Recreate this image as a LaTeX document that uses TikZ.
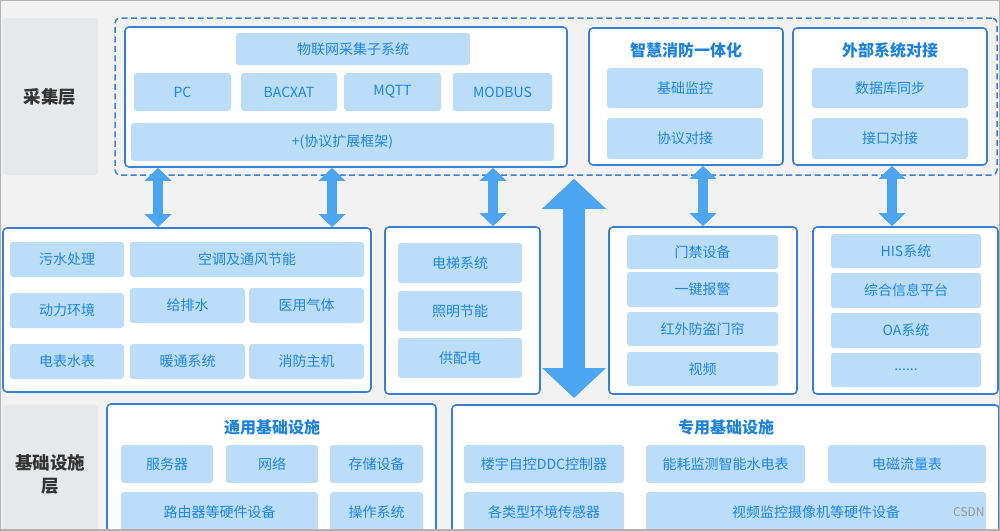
\documentclass[tikz,border=0pt]{standalone}
\usepackage{fontspec}
\setmainfont{Noto Sans CJK SC}
\usetikzlibrary{arrows.meta,calc}
\definecolor{bg}{HTML}{F2F2F2}
\definecolor{labbg}{HTML}{E7E8EA}
\definecolor{itemfill}{HTML}{BBDDF7}
\definecolor{txtblue}{HTML}{1F86E2}
\definecolor{bord}{HTML}{3A7FD1}
\definecolor{arr}{HTML}{4BA5F1}
\definecolor{titleblue}{HTML}{1E82DC}
\definecolor{labtxt}{HTML}{333333}
\newcommand\mybox[7]{%
  \pgfmathsetmacro\bxcx{(#3+#5)/2}%
  \pgfmathsetmacro\bxcy{(#4+#6)/2}%
  \pgfmathsetmacro\bxw{#5-#3}%
  \pgfmathsetmacro\bxh{#6-#4}%
  \node[#1, minimum width=\bxw pt, minimum height=\bxh pt] (#2) at (\bxcx,\bxcy) {#7};}
\tikzset{
  item/.style={fill=itemfill, rounded corners=3pt, text=txtblue, inner sep=0pt,
    font=\fontsize{14}{16}\selectfont},
  cont/.style={fill=white, draw=bord, line width=1.6pt, rounded corners=4pt, inner sep=0pt},
  dashbox/.style={draw=bord, line width=1.5pt, dash pattern=on 6pt off 3.5pt, rounded corners=5pt, inner sep=0pt},
  layer/.style={fill=labbg, rounded corners=3pt, inner sep=0pt},
  laytxt/.style={text=labtxt, align=center, inner sep=0pt,
    font=\fontsize{17.5}{23}\selectfont\bfseries},
  ttl/.style={text=titleblue, font=\fontsize{16}{18}\selectfont\bfseries, inner sep=0pt},
  dbl/.style={draw=arr, line width=10pt,
    arrows={Triangle[width=26pt,length=13pt]-Triangle[width=26pt,length=13pt]}},
  bigdbl/.style={draw=arr, line width=22pt,
    arrows={Triangle[width=62pt,length=30pt]-Triangle[width=62pt,length=30pt]}},
}
\begin{document}
\begin{tikzpicture}[x=1pt,y=-1pt]
\clip (0,0) rectangle (1000,530);
\fill[bg] (0,0) rectangle (1000,530);

% layer labels
\mybox{layer}{lay1}{3}{18}{98}{175}{}
\node[laytxt] (lay1t) at (50,97) {采集层};
\mybox{layer}{lay2}{3}{405}{98}{545}{}
\node[laytxt] (lay2t) at (50,474) {基础设施\\层};

% top: IoT
\mybox{dashbox}{dash}{115}{18}{997}{175}{}
\mybox{cont}{iot}{125}{27}{567}{167}{}
\mybox{item}{iotsub}{236}{33}{470}{65}{物联网采集子系统}
\mybox{item}{pc}{134}{73}{231}{111}{PC}
\mybox{item}{bac}{241}{73}{337}{111}{BACXAT}
\mybox{item}{mqtt}{344}{73}{441}{111}{MQTT}
\mybox{item}{modbus}{453}{73}{552}{111}{MODBUS}
\mybox{item}{ext}{131}{123}{554}{161}{+(协议扩展框架)}

% fire
\mybox{cont}{fire}{589}{28}{783}{165}{}
\node[ttl] (firet) at (686,50) {智慧消防一体化};
\mybox{item}{jc}{607}{68}{763}{108}{基础监控}
\mybox{item}{xy}{607}{118}{763}{159}{协议对接}

% external
\mybox{cont}{exts}{793}{28}{987}{165}{}
\node[ttl] (extt) at (890,50) {外部系统对接};
\mybox{item}{db}{812}{68}{968}{108}{数据库同步}
\mybox{item}{jk}{812}{118}{968}{159}{接口对接}

% middle row
\mybox{cont}{env}{3}{228}{371}{392}{}
\mybox{item}{ws}{10}{242}{124}{277}{污水处理}
\mybox{item}{kt}{130}{242}{364}{277}{空调及通风节能}
\mybox{item}{dl}{10}{293}{124}{328}{动力环境}
\mybox{item}{gps}{130}{288}{245}{323}{给排水}
\mybox{item}{yy}{249}{288}{364}{323}{医用气体}
\mybox{item}{db2}{10}{344}{124}{379}{电表水表}
\mybox{item}{nt}{130}{344}{245}{379}{暖通系统}
\mybox{item}{xf}{249}{344}{364}{379}{消防主机}

\mybox{cont}{elev}{385}{227}{540}{394}{}
\mybox{item}{dt}{398}{243}{522}{283}{电梯系统}
\mybox{item}{zm}{398}{291}{522}{331}{照明节能}
\mybox{item}{gpd}{398}{338}{522}{378}{供配电}

\mybox{cont}{door}{609}{227}{797}{394}{}
\mybox{item}{mj}{627}{235}{778}{269}{门禁设备}
\mybox{item}{yj}{627}{272}{778}{307}{一键报警}
\mybox{item}{hw}{627}{312}{778}{346}{红外防盗门帘}
\mybox{item}{sp}{627}{352}{778}{386}{视频}

\mybox{cont}{info}{813}{227}{998}{394}{}
\mybox{item}{his}{831}{234}{981}{268}{HIS系统}
\mybox{item}{zh}{831}{273}{981}{308}{综合信息平台}
\mybox{item}{oa}{831}{313}{981}{348}{OA系统}
\mybox{item}{dots}{831}{353}{981}{387}{\raisebox{-2pt}{......}}

% bottom row
\mybox{cont}{gen}{107}{404}{436}{545}{}
\node[ttl] (gent) at (272,427) {通用基础设施};
\mybox{item}{fwq}{121}{445}{213}{483}{服务器}
\mybox{item}{wl}{226}{445}{318}{483}{网络}
\mybox{item}{cc}{330}{445}{423}{483}{存储设备}
\mybox{item}{lyq}{121}{492}{318}{540}{\raisebox{9pt}{路由器等硬件设备}}
\mybox{item}{cz}{330}{492}{423}{540}{\raisebox{9pt}{操作系统}}

\mybox{cont}{spec}{452}{405}{999}{545}{}
\node[ttl] (spect) at (726,427) {专用基础设施};
\mybox{item}{ddc}{464}{445}{624}{483}{楼宇自控DDC控制器}
\mybox{item}{nh}{646}{445}{805}{483}{能耗监测智能水电表}
\mybox{item}{dc}{828}{445}{986}{483}{电磁流量表}
\mybox{item}{hj}{464}{492}{624}{540}{\raisebox{9pt}{各类型环境传感器}}
\mybox{item}{spjk}{646}{492}{986}{540}{\raisebox{9pt}{视频监控摄像机等硬件设备}}
\node[anchor=west, text=gray!80, font=\fontsize{12}{14}\selectfont, inner sep=0pt] (csdn) at (953,512) {CSDN};

% arrows
\coordinate (ax1) at (158,0);
\coordinate (ax2) at (332,0);
\coordinate (ax3) at (493,0);
\coordinate (ax4) at (703,0);
\coordinate (ax5) at (892,0);
\coordinate (bigbot) at (574,398);
\draw[dbl] (iot.south -| ax1) -- (env.north -| ax1);
\draw[dbl] (iot.south -| ax2) -- (env.north -| ax2);
\draw[dbl] (iot.south -| ax3) -- (elev.north -| ax3);
\draw[dbl] (fire.south -| ax4) -- (door.north -| ax4);
\draw[dbl] (exts.south -| ax5) -- (info.north -| ax5);
\draw[bigdbl] ($(dash.south -| bigbot)+(0,3)$) -- (bigbot);

% frame
\draw[gray!60, line width=1.5pt] (0,0) rectangle (1000,530);
\end{tikzpicture}
\end{document}
